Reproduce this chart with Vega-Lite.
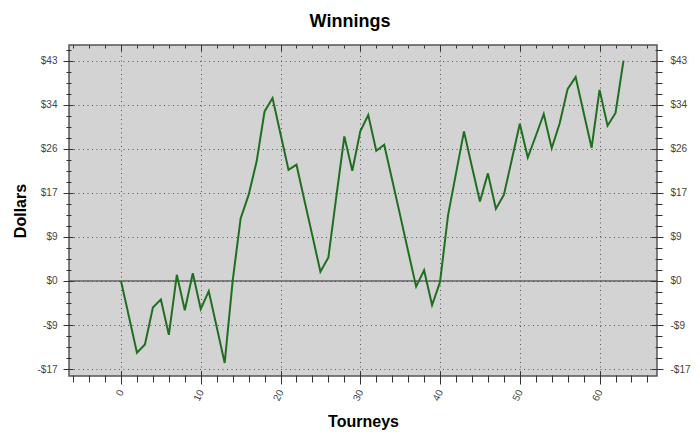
{
  "$schema": "https://vega.github.io/schema/vega-lite/v6.json",
  "width": 588,
  "height": 331,
  "autosize": "none",
  "padding": {"left": 69, "top": 45, "right": 43, "bottom": 66},
  "background": "white",
  "title": {"text": "Winnings", "font": "Liberation Sans", "fontSize": 18, "fontWeight": "bold", "color": "#000", "dx": -13, "offset": 14},
  "data": {"values": [
    {"t": 0, "v": 0}, {"t": 1, "v": -7.0}, {"t": 2, "v": -14.0}, {"t": 3, "v": -12.4},
    {"t": 4, "v": -5.2}, {"t": 5, "v": -3.6}, {"t": 6, "v": -10.5}, {"t": 7, "v": 1.2},
    {"t": 8, "v": -5.7}, {"t": 9, "v": 1.5}, {"t": 10, "v": -5.5}, {"t": 11, "v": -2.0},
    {"t": 12, "v": -9.0}, {"t": 13, "v": -16.0}, {"t": 14, "v": 0}, {"t": 15, "v": 12.2},
    {"t": 16, "v": 16.8}, {"t": 17, "v": 23.3}, {"t": 18, "v": 33.1}, {"t": 19, "v": 35.7},
    {"t": 20, "v": 28.7}, {"t": 21, "v": 21.7}, {"t": 22, "v": 22.7}, {"t": 23, "v": 15.7},
    {"t": 24, "v": 8.8}, {"t": 25, "v": 1.8}, {"t": 26, "v": 4.6}, {"t": 27, "v": 16.5},
    {"t": 28, "v": 28.2}, {"t": 29, "v": 21.5}, {"t": 30, "v": 29.2}, {"t": 31, "v": 32.4},
    {"t": 32, "v": 25.4}, {"t": 33, "v": 26.6}, {"t": 34, "v": 19.7}, {"t": 35, "v": 12.8},
    {"t": 36, "v": 5.8}, {"t": 37, "v": -1.1}, {"t": 38, "v": 2.1}, {"t": 39, "v": -4.7},
    {"t": 40, "v": -0.2}, {"t": 41, "v": 12.8}, {"t": 42, "v": 21.0}, {"t": 43, "v": 29.2},
    {"t": 44, "v": 22.3}, {"t": 45, "v": 15.5}, {"t": 46, "v": 21.0}, {"t": 47, "v": 14.1},
    {"t": 48, "v": 16.8}, {"t": 49, "v": 23.7}, {"t": 50, "v": 30.7}, {"t": 51, "v": 24.1},
    {"t": 52, "v": 28.3}, {"t": 53, "v": 32.6}, {"t": 54, "v": 25.9}, {"t": 55, "v": 30.8},
    {"t": 56, "v": 37.5}, {"t": 57, "v": 39.8}, {"t": 58, "v": 32.9}, {"t": 59, "v": 26.0},
    {"t": 60, "v": 37.3}, {"t": 61, "v": 30.3}, {"t": 62, "v": 32.8}, {"t": 63, "v": 43.0}
  ]},
  "resolve": {"axis": {"x": "independent", "y": "independent"}},
  "layer": [
    {
      "mark": {"type": "point", "opacity": 0},
      "encoding": {
        "x": {"field": "t", "type": "quantitative", "scale": {"domain": [-6.52, 67.2], "nice": false, "zero": false},
          "axis": {"orient": "top", "values": [0, 10, 20, 30, 40, 50, 60], "tickSize": -6, "labels": false, "title": null, "grid": true}},
        "y": {"field": "v", "type": "quantitative", "scale": {"domain": [-18.55, 46.06], "nice": false, "zero": false},
          "axis": {"orient": "left", "values": [-17.2, -8.6, 0, 8.6, 17.2, 25.8, 34.4, 43], "ticks": false, "labels": false, "title": null, "grid": true}}
      }
    },
    {
      "data": {"values": [{}]},
      "mark": {"type": "rule", "color": "#333333", "strokeWidth": 1},
      "encoding": {
        "y": {"datum": 0, "type": "quantitative", "scale": {"domain": [-18.55, 46.06], "nice": false, "zero": false}, "axis": null}
      }
    },
    {
      "mark": {"type": "point", "opacity": 0},
      "encoding": {
        "x": {"field": "t", "type": "quantitative", "scale": {"domain": [-6.52, 67.2], "nice": false, "zero": false},
          "axis": {"orient": "top", "values": [-6, -4, -2, 0, 2, 4, 6, 8, 10, 12, 14, 16, 18, 20, 22, 24, 26, 28, 30, 32, 34, 36, 38, 40, 42, 44, 46, 48, 50, 52, 54, 56, 58, 60, 62, 64, 66], "tickSize": -3, "labels": false, "title": null, "grid": false}},
        "y": {"field": "v", "type": "quantitative", "scale": {"domain": [-18.55, 46.06], "nice": false, "zero": false},
          "axis": {"orient": "left", "values": [-17.2, -15.05, -12.9, -10.75, -8.6, -6.45, -4.3, -2.15, 0, 2.15, 4.3, 6.45, 8.6, 10.75, 12.9, 15.05, 17.2, 19.35, 21.5, 23.65, 25.8, 27.95, 30.1, 32.25, 34.4, 36.55, 38.7, 40.85, 43, 45.15], "offset": -2, "tickSize": 5, "labels": false, "title": null, "grid": false}}
      }
    },
    {
      "mark": {"type": "point", "opacity": 0},
      "encoding": {
        "x": {"field": "t", "type": "quantitative", "scale": {"domain": [-6.52, 67.2], "nice": false, "zero": false},
          "axis": {"orient": "bottom", "values": [-6, -4, -2, 0, 2, 4, 6, 8, 10, 12, 14, 16, 18, 20, 22, 24, 26, 28, 30, 32, 34, 36, 38, 40, 42, 44, 46, 48, 50, 52, 54, 56, 58, 60, 62, 64, 66], "offset": -1, "tickSize": 7, "labels": false, "title": null, "grid": false}},
        "y": {"field": "v", "type": "quantitative", "scale": {"domain": [-18.55, 46.06], "nice": false, "zero": false},
          "axis": {"orient": "right", "values": [-17.2, -15.05, -12.9, -10.75, -8.6, -6.45, -4.3, -2.15, 0, 2.15, 4.3, 6.45, 8.6, 10.75, 12.9, 15.05, 17.2, 19.35, 21.5, 23.65, 25.8, 27.95, 30.1, 32.25, 34.4, 36.55, 38.7, 40.85, 43, 45.15], "offset": -2, "tickSize": 7, "labels": false, "title": null, "grid": false}}
      }
    },
    {
      "mark": {"type": "point", "opacity": 0},
      "encoding": {
        "y": {"field": "v", "type": "quantitative", "scale": {"domain": [-18.55, 46.06], "nice": false, "zero": false},
          "axis": {"orient": "right", "values": [-17.2, -8.6, 0, 8.6, 17.2, 25.8, 34.4, 43], "offset": -6, "tickSize": 12, "labelPadding": 7, "labelAlign": "left",
            "labelExpr": "(datum.value < 0 ? '-$' : '$') + format(abs(datum.value), '.0f')", "title": null, "grid": false}}
      }
    },
    {
      "mark": {"type": "line", "color": "#206f20", "strokeWidth": 2},
      "encoding": {
        "x": {"field": "t", "type": "quantitative", "scale": {"domain": [-6.52, 67.2], "nice": false, "zero": false},
          "axis": {"orient": "bottom", "values": [0, 10, 20, 30, 40, 50, 60], "offset": -5, "tickSize": 13, "labelAngle": -65, "labelPadding": 6, "labelFlush": false, "title": "Tourneys", "titlePadding": 11, "grid": false}},
        "y": {"field": "v", "type": "quantitative", "scale": {"domain": [-18.55, 46.06], "nice": false, "zero": false},
          "axis": {"orient": "left", "values": [-17.2, -8.6, 0, 8.6, 17.2, 25.8, 34.4, 43], "offset": -4, "tickSize": 10, "labelPadding": 6,
            "labelExpr": "(datum.value < 0 ? '-$' : '$') + format(abs(datum.value), '.0f')", "title": "Dollars", "titlePadding": 8, "grid": false}}
      }
    }
  ],
  "config": {
    "view": {"fill": "#d3d3d3", "stroke": "#555555", "strokeWidth": 1.5},
    "axis": {
      "domain": false,
      "tickColor": "#333333",
      "tickWidth": 1,
      "labelColor": "#444444",
      "labelFont": "Liberation Sans",
      "labelFontSize": 10,
      "labelOverlap": false,
      "labelBound": false,
      "titleFont": "Liberation Sans",
      "titleFontSize": 16,
      "titleFontWeight": "bold",
      "titleColor": "#000000",
      "gridColor": "#555555",
      "gridDash": [1, 3.5],
      "gridWidth": 1,
      "gridOpacity": 1
    }
  }
}
